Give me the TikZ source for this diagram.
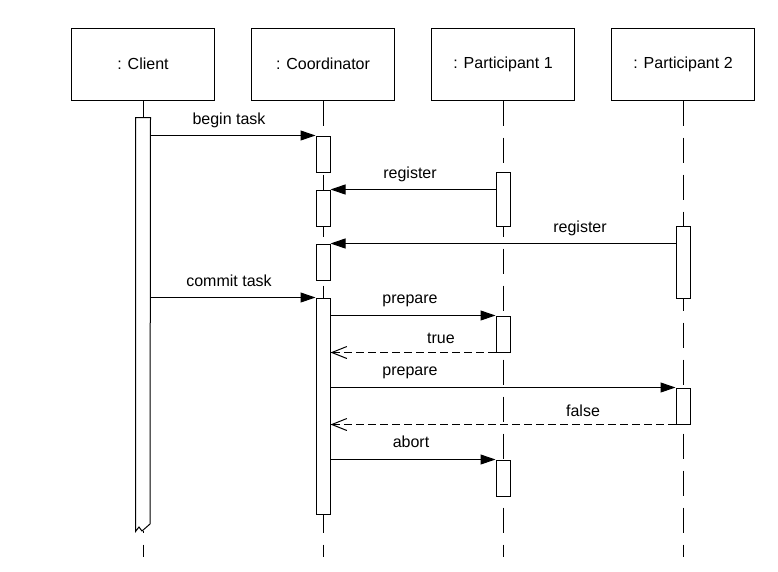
\documentclass[tikz,border=0pt]{standalone}
\usepackage{fontspec}
\setmainfont{Liberation Sans}
\usetikzlibrary{arrows.meta,calc}
\begin{document}
\begin{tikzpicture}[x=1pt,y=-1pt,line width=1pt,
  font=\fontsize{16}{19}\selectfont,
  headbox/.style={draw,rectangle,minimum width=143pt,minimum height=72pt,inner sep=0pt},
  actbox/.style={draw,fill=white,rectangle,minimum width=14pt,inner sep=0pt},
  lifeline/.style={dash pattern=on 25pt off 12pt},
  msg/.style={-{Triangle[length=15pt,width=10pt]}},
  reply/.style={dash pattern=on 8pt off 4pt,-{Straight Barb[length=15pt,width=12pt]}},
  lbl/.style={anchor=base,inner sep=0pt}]
\useasboundingbox (0,0) rectangle (778,571);
% heads
\node[headbox] (cl) at (143,64) {: Client};
\node[headbox] (co) at (323,64) {: Coordinator};
\node[headbox] (p1) at (503,64) {: Participant 1};
\node[headbox] (p2) at (683,64) {: Participant 2};
% lifeline ends
\coordinate (clE) at (143,557);
\coordinate (coE) at (323,557);
\coordinate (p1E) at (503,557);
\coordinate (p2E) at (683,557);
\draw[lifeline] (cl.south) -- (clE);
\draw[lifeline] (co.south) -- (coE);
\draw[lifeline] (p1.south) -- (p1E);
\draw[lifeline] (p2.south) -- (p2E);
% client activation with broken end
\node[fill=white,rectangle,minimum width=14pt,minimum height=413pt,inner sep=0pt] (ca) at (143,324.5) {};
\draw[fill=white] (ca.south west) -- (ca.north west) -- (ca.north east) -- (150,524) -- (142,531) -- (139,527) -- cycle;
% coordinator activations
\node[actbox,minimum height=36pt] (c1) at (323,154) {};
\node[actbox,minimum height=36pt] (c2) at (323,208) {};
\node[actbox,minimum height=36pt] (c3) at (323,262) {};
\node[actbox,minimum height=216pt] (c4) at (323,406) {};
% participant 1 activations
\node[actbox,minimum height=54pt] (a1) at (503,199) {};
\node[actbox,minimum height=36pt] (a2) at (503,334) {};
\node[actbox,minimum height=36pt] (a3) at (503,478) {};
% participant 2 activations
\node[actbox,minimum height=72pt] (b1) at (683,262) {};
\node[actbox,minimum height=36pt] (b2) at (683,406) {};
% messages
\draw[msg] (ca.east |- c1.north) -- (c1.north west);
\node[lbl] (l1) at (229,124) {begin task};
\draw[msg] (a1.west |- c2.north) -- (c2.north east);
\node[lbl] (l2) at (410,178) {register};
\draw[msg] (b1.west |- c3.north) -- (c3.north east);
\node[lbl] (l3) at (580,232) {register};
\draw[msg] (ca.east |- c4.north) -- (c4.north west);
\node[lbl] (l4) at (229,286) {commit task};
\draw[msg] (c4.east |- a2.north) -- (a2.north west);
\node[lbl] (l5) at (410,303) {prepare};
\draw[reply] (a2.south west) -- (c4.east |- a2.south);
\node[lbl] (l6) at (441,343) {true};
\draw[msg] (c4.east |- b2.north) -- (b2.north west);
\node[lbl] (l7) at (410,375) {prepare};
\draw[reply] (b2.south west) -- (c4.east |- b2.south);
\node[lbl] (l8) at (583,416) {false};
\draw[msg] (c4.east |- a3.north) -- (a3.north west);
\node[lbl] (l9) at (411,447) {abort};
\end{tikzpicture}
\end{document}
